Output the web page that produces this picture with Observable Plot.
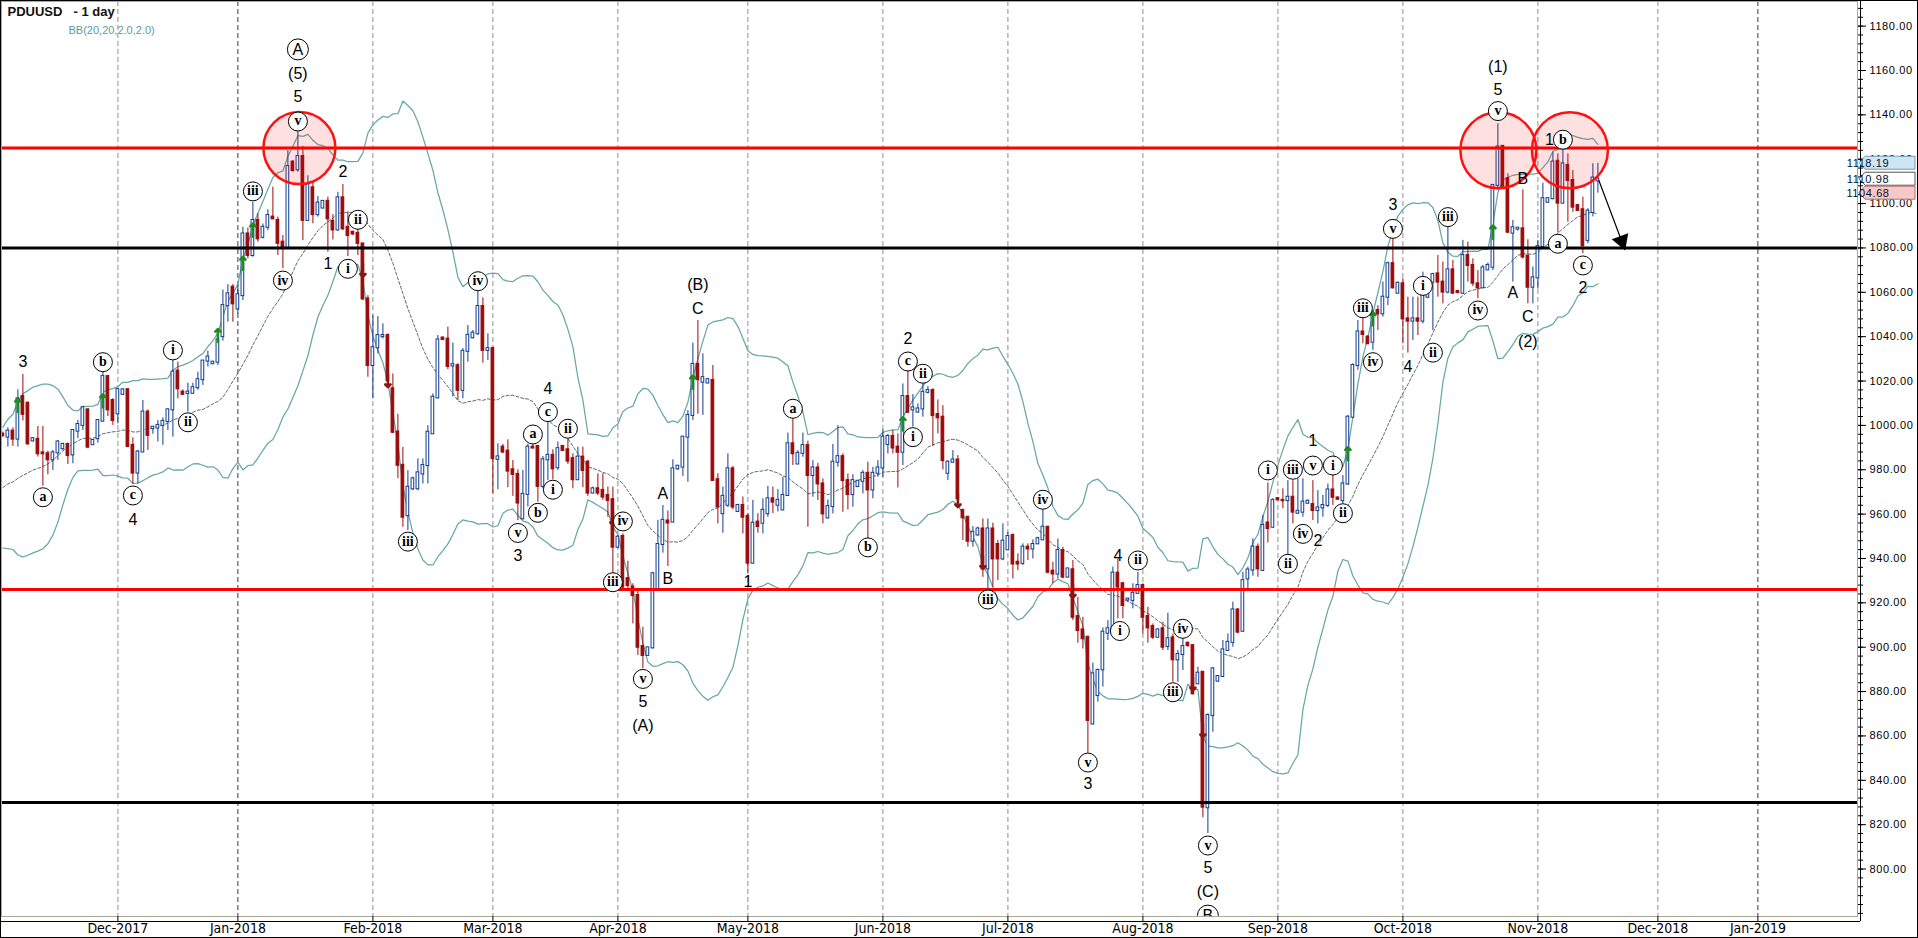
<!DOCTYPE html>
<html>
<head>
<meta charset="utf-8">
<title>PDUUSD - 1 day</title>
<script src="https://cdn.jsdelivr.net/npm/d3@7"></script>
<script src="https://cdn.jsdelivr.net/npm/@observablehq/plot@0.6"></script>
<style>
  html, body { margin: 0; padding: 0; background: #fff; overflow: hidden; }
  #chart svg { display: block; outline: 1px solid #000; outline-offset: -1px; }
</style>
</head>
<body>
<div id="chart"></div>
<script>
// ================= DATA =================
// daily bars (Sunday–Friday sessions), first bar and days without a bar
const firstBarDay = "2017-11-05";
const lastCalendarDay = "2019-02-01";
const missingDays = ["2017-12-25","2017-12-31","2018-03-30","2018-11-22","2018-11-23",
  "2018-12-23","2018-12-24","2018-12-25","2018-12-26","2018-12-30","2018-12-31"];

const open = [
996,994.7,997.4,993.8,1013,1010,993,993.7,987.6,987.2,
984.5,987.6,989.5,991.4,986.7,997.4,1000,1007,991.3,994,
1001.9,1022,1011.2,1005.2,1014,1016.1,991,978.5,988,1006,
998.5,998.8,1000,1001.8,1007,1024.5,1015,1014.4,1014.5,1017,
1020.6,1029,1027.8,1028.5,1040,1054,1062.3,1052.5,1058.5,1086.3,
1076.6,1092.4,1084.8,1089.3,1093.9,1092.4,1082.6,1080.3,1118.7,1115.2,
1121.2,1092.4,1107.1,1095,1098,1101,1092,1088.1,1102.6,1089.3,
1087.1,1086.6,1081.8,1057,1027,1035,1040,1040.5,1016.5,997,
982,959.3,971.4,971.4,978.1,981.9,996.2,1012.4,1039.4,1038.9,
1026.8,1026.9,1015.8,1033.4,1039.5,1041.3,1053.6,1033.8,1034.6,984.7,
990.2,988.4,980,977.9,957.9,968.9,990.2,990.5,972.5,984.5,
986.5,980.9,990.5,989,985,975.5,985.7,983.4,969.5,971.4,
970.7,968.4,966.5,945.1,949.9,930.9,927.1,923.3,900.3,896.3,
899.7,926.3,946.3,956.9,956.4,980.4,981.2,994.7,1004.5,1027.5,
1019.5,1019.1,1020.3,975.5,960.2,964,980.4,961.2,963.9,959,
937.9,956.4,955.9,960.2,966.9,964,961.9,968.4,991.7,982.6,
987.4,990.9,977.4,980.8,973.6,958.3,963.4,983.4,985.9,975.1,
968.8,972.4,974.8,978.4,970.9,978.4,980.8,991.4,995,990.2,
987.9,1013,1007,1006,1007.4,1014.9,1015.7,1004.9,1003.7,978.4,
983.4,984.4,961.6,958.6,947.8,950.6,953.3,935.3,953.3,946.3,
939.8,943.9,950.3,938.3,937.8,945.1,944.3,946.6,948.4,954.1,
934.3,933,943.6,931.6,934.9,913.8,907.8,904.5,865.4,878.2,
889.8,906.3,908.3,933.4,928.6,921.3,921.1,924.3,927.8,913.8,
909.3,904.5,908.3,900.3,904.2,894.3,896.7,901.8,900.7,883.5,
888.7,827.6,869.2,884.7,886.8,898.5,902.2,916.8,907.2,930.8,
934.8,945.1,934.6,956,954.1,967,966.2,966.1,967.6,960.4,
960.9,964.9,964.3,961.6,962.8,963.9,970.9,967.3,966.1,973.6,
1003.7,1027,1042.1,1039.8,1037.5,1051.8,1050.3,1057.8,1072.9,1059.6,
1063.8,1048,1047,1048,1047,1057.8,1064.6,1068.3,1064.6,1060.1,
1070.1,1060.4,1059.6,1076.6,1072.1,1063.8,1062,1070.1,1071.3,1108.2,
1125.8,1111.2,1086.7,1088.5,1088.6,1076.2,1062.3,1066.5,1080.6,1100.6,
1102.2,1119.1,1100.2,1117.2,1110.4,1099.1,1097.2,1083.4,1096,1110.2];

const high = [
997,998.9,998.9,1016,1023,1010.5,994.5,999.5,999.5,988.4,
988.7,993.2,992,992,998,1002.2,1008.5,1007.5,993.4,1002.5,
1024,1022.5,1012,1016.5,1016.5,1016.5,994.4,988.7,1011.2,1007,
999.5,1002.2,1003.4,1007.5,1030,1028.5,1016,1019,1019,1024,
1029.3,1033.5,1028.7,1041,1061,1063.5,1063.5,1063.1,1089.3,1089,
1100.6,1095.4,1090.8,1097.2,1107.4,1093.9,1085.6,1123.9,1119.4,1132.6,
1125.7,1112.6,1109.6,1103.2,1101.3,1102.9,1095,1105.1,1108.6,1096.1,
1087.5,1090.1,1082.1,1058.5,1049.5,1049,1045.8,1041.3,1023.2,1005,
990.1,979.6,976.7,984.9,984.9,999.9,1014.2,1040.5,1039.8,1044.3,
1037.1,1027.8,1034.6,1045,1042.8,1060.6,1057.5,1041.3,1035.3,991.7,
991.4,993.5,984.2,980,979.7,991.4,991.4,990.5,986,1002.2,
989,992.5,991,994,987.2,990.2,990.2,984.2,972.2,978.2,
978.2,972.2,972.2,950.4,951.1,938.8,928.6,925.6,909,900,
933.8,957.2,963.9,961.4,984.5,981.9,995,1006.7,1037.1,1047.3,
1032.3,1021,1027,978.2,972.2,987.2,981.5,964.4,967.7,960.2,
966.2,960.2,966.9,972.5,972.2,971,976.6,996.5,1003.7,988.6,
996.5,992.9,984.1,982.9,975.9,966.4,991.4,999.9,987.2,978.1,
977.8,975.1,979.6,983.4,981.1,984.1,998,995.9,997.7,996.2,
1018.7,1025,1013.9,1009.7,1019.5,1017.5,1016.5,1011.5,1008.9,984.1,
988.6,986.4,962.3,958.9,954.4,954.1,957.8,957.8,955.9,948.1,
955.6,951.8,951.1,942.1,946.6,946.6,948.4,949.6,966.1,954.4,
938.3,948.8,945.1,935.3,939.1,922.5,913.5,904.8,892.8,890.2,
908.7,912,936.1,939.8,929.3,921.8,928.6,933.8,928.6,918,
910.5,908.3,911.3,915.3,906,898.5,904.5,902.3,901,891,
888.9,870,890.9,887.2,903,906,920.3,917.3,933.8,936.1,
948.9,946.6,959.4,974,967,967.4,971.4,975.1,975.1,975.9,
975.9,966.4,975.1,970.6,968.4,973.6,977.4,967.6,977.4,1004.5,
1027.8,1047.3,1048.8,1040.5,1051.8,1054,1064.6,1073.6,1084.6,1064.6,
1066.1,1057.8,1057.8,1057.8,1069.1,1064.6,1068.6,1076.6,1073.6,1089.4,
1074.4,1060.8,1083.4,1082.6,1075.1,1069.8,1072.1,1073.2,1108.6,1136,
1126.2,1113.4,1092.4,1088.9,1106.2,1083.7,1071.4,1083.4,1109.2,1102.6,
1123.2,1122.4,1124.7,1122.4,1114.9,1099.6,1102.9,1097.7,1118,1118.19];

const low = [
994.5,990.2,990.5,990.2,1002,990.9,992.5,985.7,972.6,977.7,
979.7,984.2,988.7,982.4,982.7,994,997.7,989.5,991,992,
1001.5,1004,1000,1000.7,1013.5,990.2,973.4,973.7,988,988.7,
996,992.5,991,997.7,994.7,1012,1013.8,1006,1014.2,1015.8,
1018,1026.3,1027.5,1027,1038,1046.5,1046.5,1050,1056.3,1075.1,
1075.8,1082.6,1084,1087.8,1092.7,1076.6,1070.6,1080.3,1114.1,1114.1,
1083.3,1092,1090.9,1093.9,1097.6,1078.1,1083.6,1087.5,1087.8,1076.1,
1085.6,1076.6,1056.3,1021.7,1012,1032.2,1039,1019.5,996.2,976,
954.1,952.6,970.6,970.6,973.6,973.6,996,1012,1038.3,1025.1,
1012.8,1011.3,1012,1028.5,1039,1040.6,1028,1029.3,969.2,971,
987.2,971.9,968,957.1,957.4,963.2,989.4,965.4,971.4,975.2,
975.5,979.7,988.4,982.4,971.4,975.2,971.9,968,969.2,968.4,
966.2,958.6,933.1,944.4,926.3,925.6,910.5,896.3,890.3,895.9,
899.2,926.3,942.4,936.4,956.4,979.7,977,974.4,1002.2,1005,
1004.5,1018.8,975,955.6,951.4,963,962,960.9,951.1,933.4,
937.6,951.4,951.1,958.6,960.2,961,961.6,968,981.9,982.3,
985.6,954.1,967.6,966.1,955.6,957.8,960.1,981.1,960.8,961.9,
963.1,972.1,969.1,945.4,966.9,976.6,976.6,987.1,987.1,971.8,
981.9,1005.5,999.2,1005.5,1003.7,1014.2,990.5,996.2,979.9,975.1,
982.9,965.4,948.1,945.1,945.1,950.1,931.5,924,927,930,
939,943.6,930.8,934.5,936.8,939.1,939.8,946.3,948.1,933,
928.6,930.8,930.8,931.3,912,901.8,899.2,852.2,865,875.2,
882,903,908,912.8,912.8,920.3,917.3,924,906,901.8,
903.5,904.3,898.5,898.5,884.2,884.2,889.5,900,878.5,883.3,
823.1,816,861.7,884.2,886.5,898.2,900,906,906.8,926.3,
932,931.5,934.3,947,953.5,966.2,962.4,939.1,955.6,960.1,
958.6,964.6,957.1,955.6,958.6,963,963.9,966.3,964.6,972.9,
1003,1024.8,1036.8,1036.5,1033.8,1042.8,1048.8,1054,1061.5,1059.3,
1036.8,1032.6,1038.3,1040.5,1045.8,1057.1,1042.8,1057.8,1054.8,1059.3,
1059.3,1059.3,1059,1064.6,1062.6,1057.1,1062,1070.1,1069.8,1106,
1106.7,1086.4,1064.6,1087.6,1075,1054.8,1054.8,1061.5,1080.3,1100.2,
1101.7,1086.7,1099.9,1091.6,1096.1,1096.6,1077.4,1081.9,1094,1104.68];

const close = [
995.5,997.4,993.8,1012,1005,991.7,994,987.2,987.2,984.5,
987.6,992.5,991.4,986.4,997.7,1000.4,1007.9,990.2,993.2,1002.2,
1022,1007,1002.2,1016.1,1016,990.5,978.5,988,1006,995.5,
999.2,1000,1001.8,1007,1024,1016.5,1014,1015,1017,1020.6,
1029,1030.8,1028.5,1038.5,1054,1059.3,1054.8,1058.9,1086.3,1076.6,
1092.4,1084.1,1089.3,1094.6,1093.1,1082.1,1080,1116.7,1114.9,1121.2,
1092.4,1108.6,1095,1100.2,1101,1093.1,1088.1,1102.6,1088.6,1085.6,
1086.3,1082.1,1057,1027,1035,1040.5,1040.5,1020.2,996.9,982,
958.6,972.1,975.9,978.6,981.9,996.9,1012.7,1038.5,1038.7,1026.6,
1027.4,1015.8,1033.4,1040.6,1041.6,1053.6,1033.8,1034.6,985,985.8,
988,979.4,977.9,965,968.9,990.2,989.8,972.5,984.5,986.5,
980.4,989.5,988.7,983.9,975.5,985.7,979.7,969.5,971.4,969.5,
967.7,966.2,945.1,949.6,927.1,927.8,923.3,900,896.3,899.7,
933.1,946.3,957.2,956,980.4,981.6,994.7,1004.5,1027.5,1020.6,
1021.5,1020.6,975.2,963.2,968,980.4,963.2,963.9,958.6,937.9,
955.9,954.4,961.7,966.9,965.4,966.2,968.4,991.7,987.2,987.4,
990.9,977.4,980.8,973.6,960.1,963.4,983.4,985.9,975.1,968.8,
975.1,974.8,978.4,970.9,978.4,980.8,994.7,995,989.8,987.9,
1013,1005.9,1007.9,1007.4,1014.9,1015.7,1004.4,1003.4,984.1,983.4,
984.4,966.9,958.3,947.8,951.8,953.3,935.3,953.3,939.8,939.8,
947.8,949.9,937.5,937.5,945.1,944.3,946.3,948.9,954.1,933.8,
933,943.6,931.6,935.3,913.5,907.5,903.8,867,888,889.5,
906.8,908.3,933.4,927.1,918.8,921.7,924.3,927.8,913.5,908.7,
904.5,907.8,900,903.8,894.3,896.7,900.3,900.7,879,888.3,
827.9,869.2,890.2,886.8,898.8,902.2,916.8,906.8,930,934.8,
945.1,935.3,954.9,953.5,966.1,966.4,966,967.6,960.9,961.3,
965.4,965.8,961.6,962.8,963.9,970.9,967.6,966.7,973.6,1003.7,
1027,1042.1,1041,1036.8,1050.3,1050.3,1057.8,1072.9,1062,1064.1,
1048,1047,1048,1047,1062.3,1064.6,1068,1064.6,1060.1,1070.1,
1059.6,1059.9,1076.6,1072.1,1064.1,1062,1071,1072.1,1108.2,1125.5,
1107.4,1087.1,1089.1,1088.9,1075.9,1062.3,1066.5,1080.6,1102.2,1102.2,
1118.7,1100.2,1117.9,1110.4,1098.4,1096.9,1081,1096.6,1111.5,1110.98];

// closes of the 19 sessions before the first visible bar (estimated from where the band starts)
const warmupCloses = [965,975,980,978,970,968,972,970,962,955,950,948,955,965,975,985,990,992,989];
const bbPeriod = 20, bbDeviations = 2;

const resistanceLevels = [1125, 926];
const supportLevels = [1080, 830];
const highlightZones = [{bar: 59.3, price: 1125}, {bar: 299.1, price: 1124}, {bar: 313.4, price: 1124}];

const upSignals = [[3,1009],[20,1011],[43,1040.5],[48,1073],[50,1088],[138,1019.5],[180,1000.7],[269,987.2],[274,1048],[298,1087.1]];
const downSignals = [[72,1070],[77,1020.2],[122,958],[191,966.1],[196,938.3],[214,925.3],[238,883.5],[240,862.4]];

// Elliott wave labels: [bar, price, text]
const waveLabels = [
 [4,1028.5,"3"],[26,957.4,"4"],[59,1158.5,"(5)"],[59,1148,"5"],[68,1114.2,"2"],[65,1072.6,"1"],
 [109,1016.5,"4"],[103,941.3,"3"],[128,875.5,"5"],[128,864.7,"(A)"],[132,969.2,"A"],[133,930.8,"B"],
 [139,1063.5,"(B)"],[139,1052.6,"C"],[149,929.3,"1"],[181,1039,"2"],[223,941.3,"4"],[217,838.4,"3"],
 [241,800.5,"5"],[241,789.5,"(C)"],[262,993,"1"],[263,948,"2"],[278,1099.6,"3"],[281,1026.3,"4"],
 [302,1059.6,"A"],[304,1111.2,"B"],[305,1048.8,"C"],[305,1037.5,"(2)"],[299,1161.8,"(1)"],[299,1151.3,"5"],
 [309.3,1128.8,"1"],[316,1062,"2"]];
const minorWaveLabels = [
 [8,967.6,"a"],[20,1028.5,"b"],[26,968.4,"c"],[34,1033.8,"i"],[37,1001.4,"ii"],[50,1105.5,"iii"],
 [56,1065.3,"iv"],[59,1137,"v"],[69,1070.6,"i"],[71,1092.7,"ii"],[81,947.6,"iii"],[95,1065,"iv"],
 [109,1006,"c"],[106,995.9,"a"],[113,998.5,"ii"],[110,971,"i"],[107,960.6,"b"],[103,951.5,"v"],
 [124,956.7,"iv"],[122,929.3,"iii"],[128,885.7,"v"],[158,1007.5,"a"],[173,945,"b"],[181,1028.8,"c"],
 [184,1023.3,"ii"],[182,994.7,"i"],[208,966.5,"iv"],[197,921.5,"iii"],[227,939.1,"ii"],[223.4,907.3,"i"],
 [217,848,"v"],[236,908.3,"iv"],[234,879.7,"iii"],[241,810.6,"v"],[253,979.7,"i"],[257,937.6,"ii"],
 [258,980,"iii"],[260,951.1,"iv"],[262,981.9,"v"],[266,981.9,"i"],[268,960.4,"ii"],[272,1052.8,"iii"],
 [274,1028.5,"iv"],[278,1088.6,"v"],[284,1062.9,"i"],[286,1032.8,"ii"],[289,1093.9,"iii"],[295,1051.8,"iv"],
 [299,1141.7,"v"],[312,1128.8,"b"],[311,1081.9,"a"],[316,1072.1,"c"]];
const majorWaveLabels = [[59,1169.5,"A"],[241,779,"B"]];

const projection = {bar1: 319.2, price1: 1110.4, bar2: 324.2, price2: 1080.4};
const priceTags = [{price: 1118.19, kind: "upper"}, {price: 1110.98, kind: "last"}, {price: 1104.68, kind: "lower"}];
const priceTicks = d3.range(800, 1181, 20);
const minorPriceTicks = d3.range(780, 1191, 4);
const titleText = "PDUUSD", periodText = "- 1 day", indicatorText = "BB(20,20,2.0,2.0)";

// ================= DERIVED =================
const fmtDay = d3.utcFormat("%Y-%m-%d");
const bars = d3.utcDay.range(new Date(firstBarDay), new Date(lastCalendarDay))
  .filter(d => d.getUTCDay() !== 6 && !missingDays.includes(fmtDay(d)));
const candles = close.map((c, i) => ({bar: i, date: bars[i], open: open[i], high: high[i], low: low[i], close: c, up: c >= open[i]}));
const months = bars.map((d, i) => ({d, i})).filter(({d, i}) => i > 0 && d.getUTCMonth() !== bars[i - 1].getUTCMonth());
const monthLabel = new Map(months.map(m => [m.i, d3.utcFormat("%b-%Y")(m.d)]));

const series = warmupCloses.concat(close);
const bands = close.map((c, i) => {
  const k = i + warmupCloses.length;
  const w = series.slice(k - bbPeriod + 1, k + 1);
  const m = d3.mean(w);
  const s = Math.sqrt(d3.mean(w, v => (v - m) ** 2));
  return {bar: i, mid: m, upper: m + bbDeviations * s, lower: m - bbDeviations * s};
});

// ================= CHART =================
const fontSans = "'Liberation Sans', Arial, sans-serif";
const fontSerif = "'Liberation Serif', 'Times New Roman', serif";
const fontNarrow = "'Liberation Sans Narrow', 'DejaVu Sans Condensed', sans-serif";
const BLUE = "#0f3c8f", RED = "#9a0b0b";
const xDomain = [-0.28, 370.92], yDomain = [778.6, 1191.1];
const zoneRadius = [36, 38, 38];
const tagStyle = {upper: ["#cfe5f3", "#6e9ab8"], last: ["#ffffff", "#555555"], lower: ["#f6c8c8", "#b86a6a"]};

function priceTagMark(index, scales, values, dimensions) {
  const g = d3.create("svg:g");
  const x0 = dimensions.width - dimensions.marginRight + 2;
  for (const t of priceTags) {
    const y = scales.y(t.price);
    const [fill, stroke] = tagStyle[t.kind];
    g.append("path")
      .attr("d", `M${x0},${y}L${x0 + 6},${y - 6.5}H${x0 + 56}V${y + 6.5}H${x0 + 6}Z`)
      .attr("fill", fill).attr("stroke", stroke).attr("stroke-width", 1);
    g.append("text").attr("x", x0 + 9).attr("y", y).attr("dy", "0.36em")
      .attr("font-family", fontSans).attr("font-size", 11).attr("letter-spacing", "0.6px")
      .attr("fill", "#001030").text(t.price.toFixed(2));
  }
  return g.node();
}

const chart = Plot.plot({
  width: 1918, height: 938,
  marginLeft: 1, marginRight: 61, marginTop: 1, marginBottom: 22,
  style: {fontFamily: fontSans, background: "#fff", overflow: "visible"},
  x: {type: "linear", domain: xDomain, axis: null},
  y: {type: "linear", domain: yDomain, axis: null},
  r: {type: "identity"},
  color: {type: "identity"},
  marks: [
    Plot.ruleX(months, {x: "i", stroke: d => d.d.getUTCMonth() === 0 ? "#3a3a3a" : "#8e8e8e", strokeDasharray: "5,3", strokeWidth: 1}),
    Plot.line(bands, {x: "bar", y: "upper", stroke: "#67a7a7", strokeWidth: 1.25}),
    Plot.line(bands, {x: "bar", y: "lower", stroke: "#67a7a7", strokeWidth: 1.25}),
    Plot.line(bands, {x: "bar", y: "mid", stroke: "#5d6b6b", strokeWidth: 1, strokeDasharray: "3,2"}),
    Plot.ruleX(candles, {x: "bar", y1: "low", y2: "high", stroke: d => d.up ? BLUE : RED, strokeWidth: 1}),
    Plot.rect(candles, {x1: d => d.bar - 0.27, x2: d => d.bar + 0.27, y1: "open", y2: "close",
      fill: d => d.up ? "#ffffff" : RED, stroke: d => d.up ? BLUE : RED, strokeWidth: 1, insetTop: -0.5, insetBottom: -0.5}),
    Plot.ruleY(resistanceLevels, {stroke: "#ff0000", strokeWidth: 3}),
    Plot.ruleY(supportLevels, {stroke: "#000000", strokeWidth: 3}),
    Plot.dot(highlightZones, {x: "bar", y: "price", r: (d, i) => zoneRadius[i], fill: "#ff0000", fillOpacity: 0.12, stroke: "#ff1111", strokeWidth: 2.5}),
    Plot.vector(upSignals, {x: d => d[0], y: d => d[1], length: 13, rotate: 0, anchor: "middle", stroke: "#1f8a1f", strokeWidth: 2.6}),
    Plot.vector(downSignals, {x: d => d[0], y: d => d[1], length: 13, rotate: 180, anchor: "middle", stroke: "#8b1515", strokeWidth: 2.6}),
    Plot.arrow([projection], {x1: "bar1", y1: "price1", x2: "bar2", y2: "price2", stroke: "#000", strokeWidth: 1.2, headLength: 0}),
    Plot.dot([projection], {x: "bar2", y: "price2", symbol: "triangle", r: 6.5, fill: "#000", stroke: "none", rotate: 160, dx: -2.2, dy: -6}),
    Plot.text(waveLabels, {x: d => d[0], y: d => d[1], text: d => d[2], fontSize: 16, fontFamily: fontSans, fill: "#000", textAnchor: "middle", lineAnchor: "middle"}),
    Plot.dot(minorWaveLabels, {x: d => d[0], y: d => d[1], r: 9.5, fill: "#fff", stroke: "#000", strokeWidth: 1}),
    Plot.text(minorWaveLabels, {x: d => d[0], y: d => d[1], text: d => d[2], fontSize: 14, fontWeight: "bold", fontFamily: fontSerif, fill: "#000", textAnchor: "middle", lineAnchor: "middle", ariaLabel: "minor-wave", dy: -0.5}),
    Plot.dot(majorWaveLabels, {x: d => d[0], y: d => d[1], r: 10.5, fill: "#fff", stroke: "#000", strokeWidth: 1, clip: true}),
    Plot.text(majorWaveLabels, {x: d => d[0], y: d => d[1], text: d => d[2], fontSize: 16, fontFamily: fontSans, fill: "#000", textAnchor: "middle", lineAnchor: "middle", clip: true}),
    Plot.frame({stroke: "#a9a998"}),
    Plot.ruleX([xDomain[1]], {dx: 3, y1: () => yDomain[0] - 2.3, y2: () => yDomain[1], stroke: "#000"}),
    Plot.ruleY([yDomain[0]], {dy: 5, x1: () => xDomain[0], x2: () => xDomain[1] + 0.6, stroke: "#000"}),
    Plot.axisY({anchor: "right", ticks: minorPriceTicks, tickSize: 5, tickFormat: () => "", stroke: "#000"}),
    Plot.axisY({anchor: "right", ticks: priceTicks, tickSize: 8, tickPadding: 4, tickFormat: d => d.toFixed(2), fontSize: 11, fontFamily: fontSans, fill: "#000", stroke: "#000"}),
    Plot.axisX({anchor: "bottom", ticks: months.map(m => m.i), tickSize: 5, tickPadding: 2, tickFormat: i => monthLabel.get(i), fontSize: 14, fontFamily: fontNarrow, fill: "#000", stroke: "#000"}),
    priceTagMark,
    Plot.text([titleText], {frameAnchor: "top-left", dx: 6, dy: 5, text: d => d, fontSize: 13, fontWeight: "bold", fill: "#111", textAnchor: "start", lineAnchor: "top"}),
    Plot.text([periodText], {frameAnchor: "top-left", dx: 72, dy: 5, text: d => d, fontSize: 13, fontWeight: "bold", fill: "#111", textAnchor: "start", lineAnchor: "top"}),
    Plot.text([indicatorText], {frameAnchor: "top-left", dx: 67, dy: 25, text: d => d, fontSize: 11, fill: "#5b9c9c", textAnchor: "start", lineAnchor: "top"})
  ]
});

document.getElementById("chart").appendChild(chart);
d3.select(chart).selectAll('g[aria-label="y-axis tick label"] text').attr("letter-spacing", "0.6px");
d3.select(chart).selectAll('g[aria-label="minor-wave"] text').each(function() {
  const t = this.textContent;
  if (t.length > 2) d3.select(this).attr("letter-spacing", "-1px").attr("font-size", 12);
  else if (t.length === 2) d3.select(this).attr("letter-spacing", "-0.5px").attr("font-size", 13);
});
</script>
</body>
</html>
